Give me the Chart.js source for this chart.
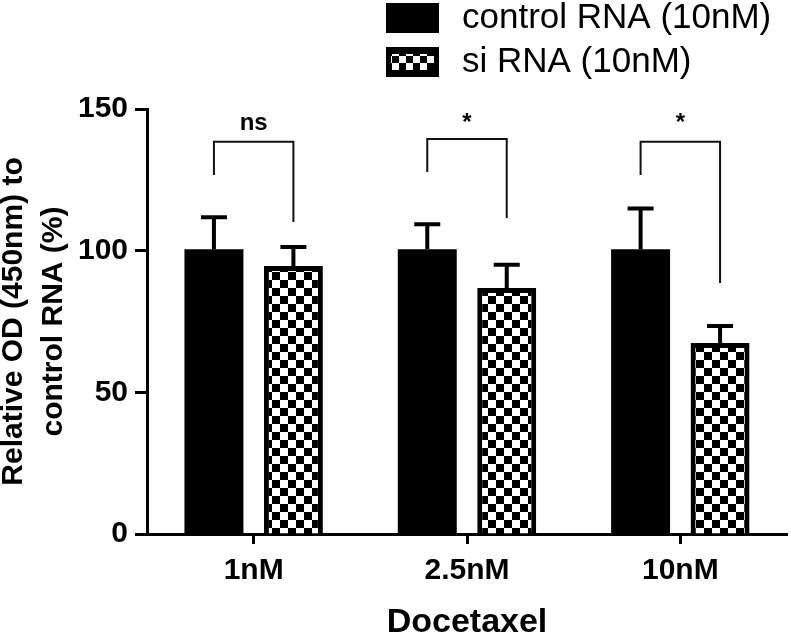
<!DOCTYPE html>
<html>
<head>
<meta charset="utf-8">
<script src="https://cdn.jsdelivr.net/npm/chart.js@4"></script>
<style>
  html, body { margin: 0; padding: 0; background: #fff; }
  #wrap { width: 791px; height: 643px; }
</style>
</head>
<body>
<div id="wrap"><canvas id="chart" width="791" height="643"></canvas></div>
<script>
// data
const categories = ['1nM', '2.5nM', '10nM'];
const seriesNames = ['control RNA (10nM)', 'si RNA (10nM)'];
const controlMeans = [100.5, 100.5, 100.5];
const controlSD = [11.3, 8.8, 14.4];
const siMeans = [94.6, 86.8, 67.4];
const siSD = [6.7, 8.2, 6.0];
const yTicks = [0, 50, 100, 150];

// significance brackets (in y units)
const sigLabels = ['ns', '*', '*'];
const bracketTop = [138.4, 139.4, 138.4];
const bracketLeftEnd = [126.7, 127.8, 126.7];
const bracketRightEnd = [110.1, 111.5, 88.6];
const sigLabelLevel = 142.6;

const FONT = "'Liberation Sans', Arial, sans-serif";
const canvas = document.getElementById('chart');
const ctx = canvas.getContext('2d');

function checker(cell) {
    const c = document.createElement('canvas');
    c.width = c.height = cell * 2;
    const x = c.getContext('2d');
    x.fillStyle = '#fff';
    x.fillRect(0, 0, cell * 2, cell * 2);
    x.fillStyle = '#000';
    x.fillRect(0, 0, cell, cell);
    x.fillRect(cell, cell, cell, cell);
    return ctx.createPattern(c, 'repeat');
}
const checkerFill = checker(8);
const checkerSmall = checker(7);

// upper error bars only (bar hides the lower half)
const errorBars = {
    id: 'errorBars',
    afterDatasetsDraw(chart) {
        const c = chart.ctx, y = chart.scales.y;
        chart.data.datasets.forEach((ds, i) => {
            chart.getDatasetMeta(i).data.forEach((bar, j) => {
                const top = y.getPixelForValue(ds.data[j] + ds.sd[j]);
                c.save();
                c.strokeStyle = '#000';
                c.lineWidth = 4;
                c.beginPath();
                c.moveTo(bar.x, bar.y);
                c.lineTo(bar.x, top);
                c.moveTo(bar.x - 13, top);
                c.lineTo(bar.x + 13, top);
                c.stroke();
                c.restore();
            });
        });
    }
};

const brackets = {
    id: 'brackets',
    afterDatasetsDraw(chart) {
        const c = chart.ctx, y = chart.scales.y;
        const m0 = chart.getDatasetMeta(0).data, m1 = chart.getDatasetMeta(1).data;
        c.save();
        c.strokeStyle = '#111';
        c.lineWidth = 2;
        categories.forEach((cat, j) => {
            const x0 = m0[j].x, x1 = m1[j].x;
            const yt = y.getPixelForValue(bracketTop[j]);
            c.beginPath();
            c.moveTo(x0, y.getPixelForValue(bracketLeftEnd[j]));
            c.lineTo(x0, yt);
            c.lineTo(x1, yt);
            c.lineTo(x1, y.getPixelForValue(bracketRightEnd[j]));
            c.stroke();
            c.fillStyle = '#000';
            c.font = 'bold 24px ' + FONT;
            c.textAlign = 'center';
            c.textBaseline = 'alphabetic';
            c.fillText(sigLabels[j], (x0 + x1) / 2, y.getPixelForValue(sigLabelLevel));
        });
        c.restore();
    }
};

const legendBoxes = {
    id: 'legendBoxes',
    afterDraw(chart) {
        const c = chart.ctx;
        c.save();
        // control
        c.fillStyle = '#000';
        c.fillRect(386, 3, 53, 30);
        // si
        c.fillRect(386, 47, 53, 30);
        c.fillStyle = checkerSmall;
        c.fillRect(391, 54, 43, 16);
        c.fillStyle = '#000';
        c.font = '35px ' + FONT;
        c.textAlign = 'left';
        c.textBaseline = 'middle';
        c.fillText(seriesNames[0], 462, 18);
        c.fillText(seriesNames[1], 462, 62);
        c.restore();
    }
};

new Chart(ctx, {
    type: 'bar',
    data: {
        labels: categories,
        datasets: [
            {
                label: seriesNames[0],
                data: controlMeans,
                sd: controlSD,
                backgroundColor: '#000',
                borderColor: '#000',
                borderWidth: 0,
                categoryPercentage: 0.745,
                barPercentage: 0.742
            },
            {
                label: seriesNames[1],
                data: siMeans,
                sd: siSD,
                backgroundColor: checkerFill,
                borderColor: '#000',
                borderWidth: 5,
                categoryPercentage: 0.745,
                barPercentage: 0.742
            }
        ]
    },
    options: {
        responsive: false,
        animation: false,
        layout: { padding: { top: 109, right: 4, left: 0, bottom: 0 } },
        plugins: {
            legend: { display: false },
            tooltip: { enabled: false }
        },
        scales: {
            x: {
                grid: {
                    display: true,
                    drawOnChartArea: false,
                    offset: false,
                    tickLength: 10,
                    tickWidth: 3,
                    tickColor: '#000'
                },
                border: { display: true, color: '#000', width: 3 },
                ticks: {
                    color: '#000',
                    padding: 9,
                    font: { family: FONT, size: 30, weight: 'bold' }
                },
                title: {
                    display: true,
                    text: 'Docetaxel',
                    color: '#000',
                    padding: { top: 0, bottom: 0 },
                    font: { family: FONT, size: 34, weight: 'bold' }
                },
                afterFit(s) { s.height = 109; }
            },
            y: {
                min: 0,
                max: 150,
                afterBuildTicks(s) { s.ticks = yTicks.map(v => ({ value: v })); },
                grid: {
                    display: true,
                    drawOnChartArea: false,
                    tickLength: 12,
                    tickWidth: 3,
                    tickColor: '#000'
                },
                border: { display: true, color: '#000', width: 3 },
                ticks: {
                    color: '#000',
                    padding: 7,
                    font: { family: FONT, size: 30, weight: 'bold' }
                },
                title: {
                    display: true,
                    text: ['Relative OD (450nm) to', 'control RNA (%)'],
                    color: '#000',
                    padding: { top: -7, bottom: 0 },
                    font: { family: FONT, size: 30, weight: 'bold', lineHeight: 1.35 }
                },
                afterFit(s) { s.width = 147; }
            }
        }
    },
    plugins: [errorBars, brackets, legendBoxes]
});
</script>
</body>
</html>
